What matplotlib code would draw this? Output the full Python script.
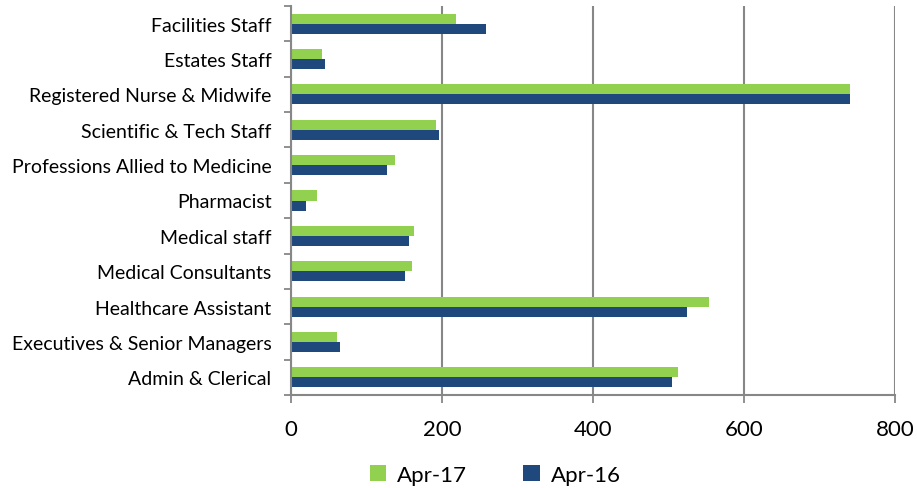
import matplotlib
matplotlib.use("Agg")
import matplotlib.pyplot as plt
import numpy as np
from matplotlib.ticker import FixedLocator, NullFormatter, FixedFormatter

categories = ["Facilities Staff", "Estates Staff", "Registered Nurse & Midwife",
              "Scientific & Tech Staff", "Professions Allied to Medicine", "Pharmacist",
              "Medical staff", "Medical Consultants", "Healthcare Assistant",
              "Executives & Senior Managers", "Admin & Clerical"]
apr17 = [218, 41, 740, 192, 138, 34, 163, 160, 554, 61, 512]
apr16 = [258, 45, 740, 196, 127, 20, 156, 151, 525, 65, 504]
series_names = ["Apr-17", "Apr-16"]
xticks = [0, 200, 400, 600, 800]

GREEN = "#92D050"
BLUE = "#1F497D"
GRID = "#878787"

plt.rcParams['font.family'] = ['Lato', 'DejaVu Sans']

fig = plt.figure(figsize=(9.17, 4.89), dpi=100)
ax = fig.add_axes([291/917, 1-396/489, (895-291)/917, (396-7)/489])

y = np.arange(len(categories))
h = 0.283
ax.barh(y - h/2, apr17, height=h, color=GREEN, label=series_names[0], zorder=3)
ax.barh(y + h/2, apr16, height=h, color=BLUE, label=series_names[1], zorder=3)

ax.set_xlim(0, 800)
ax.set_ylim(len(categories) - 0.5, -0.5)
ax.set_xticks(xticks)
ax.set_xticklabels([str(t) for t in xticks], fontsize=16)
ax.tick_params(axis='x', length=6, width=1.3, color=GRID, pad=11)
ax.xaxis.grid(True, color=GRID, linewidth=1.5, zorder=0)

ax.yaxis.set_major_locator(FixedLocator(np.arange(len(categories) + 1) - 0.5))
ax.yaxis.set_major_formatter(NullFormatter())
ax.yaxis.set_minor_locator(FixedLocator(y))
ax.yaxis.set_minor_formatter(FixedFormatter(categories))
ax.tick_params(axis='y', which='major', length=5, width=1.3, color=GRID)
ax.tick_params(axis='y', which='minor', length=0, labelsize=14, pad=14)

for s in ['top', 'right']:
    ax.spines[s].set_visible(False)
for s in ['left', 'bottom']:
    ax.spines[s].set_color(GRID)
    ax.spines[s].set_linewidth(1.5)
    ax.spines[s].set_zorder(4)

leg = fig.legend(loc='center', bbox_to_anchor=(0.54, 1-476/489), ncol=2, frameon=False,
                 fontsize=16, handlelength=0.75, handleheight=0.75, columnspacing=2.5,
                 handletextpad=0.5)

fig.savefig("out.png", dpi=100)
